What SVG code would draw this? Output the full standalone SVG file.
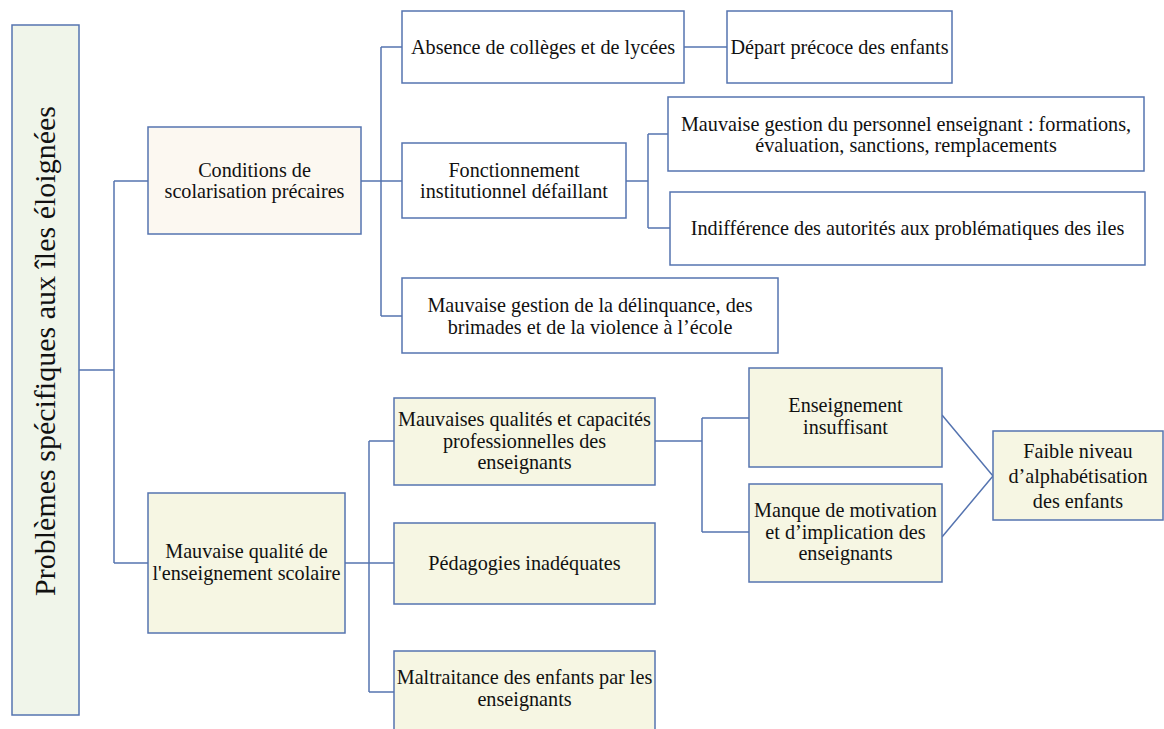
<svg xmlns="http://www.w3.org/2000/svg" width="1164" height="729" viewBox="0 0 1164 729">
<style>
.b{stroke:#5574b0;stroke-width:1.5;}
.w{fill:#ffffff;}
.g{fill:#f0f5ea;}
.c{fill:#fcf8f1;}
.y{fill:#f6f6e3;}
text{font-family:"Liberation Serif","Times New Roman",serif;font-size:20.2px;fill:#111;text-anchor:middle;}
.con{fill:none;stroke:#5574b0;stroke-width:1.5;}
</style>
<rect width="1164" height="729" fill="#ffffff"/>
<g id="connectors" class="con">
<path d="M79 370 H114 M114 181 V563 M114 181 H148 M114 563 H148"/>
<path d="M361 181 H381 M381 47 V316 M381 47 H402 M381 181 H402 M381 316 H402"/>
<path d="M684 47 H727"/>
<path d="M626 181 H648 M648 134 V228 M648 134 H668 M648 228 H670"/>
<path d="M345 563 H369 M369 441 V692 M369 441 H394 M369 563 H394 M369 692 H394"/>
<path d="M655 441 H702 M702 418 V532 M702 418 H749 M702 532 H749"/>
<path d="M942 415 L993 476 L942 537"/>
</g>
<g id="root"><rect class="b g" x="12" y="25" width="67" height="690"/>
<text transform="translate(55 351) rotate(-90)" style="font-size:30px">Problèmes spécifiques aux îles éloignées</text></g>
<g id="conditions"><rect class="b c" x="148" y="127" width="213" height="107"/>
<text x="254.5" y="177">Conditions de</text><text x="254.5" y="198">scolarisation précaires</text></g>
<g id="mauvaise-qualite"><rect class="b y" x="148" y="493" width="197" height="140"/>
<text x="246.5" y="558">Mauvaise qualité de</text><text x="246.5" y="580">l'enseignement scolaire</text></g>
<g id="absence"><rect class="b w" x="402" y="11" width="282" height="72"/>
<text x="543" y="54">Absence de collèges et de lycées</text></g>
<g id="depart"><rect class="b w" x="727" y="11" width="225" height="72"/>
<text x="839.5" y="54">Départ précoce des enfants</text></g>
<g id="fonctionnement"><rect class="b w" x="402" y="143" width="224" height="75"/>
<text x="514" y="177">Fonctionnement</text><text x="514" y="198">institutionnel défaillant</text></g>
<g id="gestion-personnel"><rect class="b w" x="668" y="97" width="476" height="74"/>
<text x="906" y="131">Mauvaise gestion du personnel enseignant : formations,</text><text x="906" y="152">évaluation, sanctions, remplacements</text></g>
<g id="indifference"><rect class="b w" x="670" y="192" width="475" height="73"/>
<text x="907.5" y="235">Indifférence des autorités aux problématiques des iles</text></g>
<g id="delinquance"><rect class="b w" x="402" y="278" width="376" height="75"/>
<text x="590" y="312">Mauvaise gestion de la délinquance, des</text><text x="590" y="334">brimades et de la violence à l’école</text></g>
<g id="qualites"><rect class="b y" x="394" y="398" width="261" height="87"/>
<text x="524.5" y="426">Mauvaises qualités et capacités</text><text x="524.5" y="447.5">professionnelles des</text><text x="524.5" y="469">enseignants</text></g>
<g id="pedagogies"><rect class="b y" x="394" y="523" width="261" height="81"/>
<text x="524.5" y="570">Pédagogies inadéquates</text></g>
<g id="maltraitance"><rect class="b y" x="394" y="651" width="261" height="90"/>
<text x="524.5" y="684">Maltraitance des enfants par les</text><text x="524.5" y="706">enseignants</text></g>
<g id="insuffisant"><rect class="b y" x="749" y="368" width="193" height="99"/>
<text x="845.5" y="412">Enseignement</text><text x="845.5" y="434">insuffisant</text></g>
<g id="motivation"><rect class="b y" x="749" y="484" width="193" height="98"/>
<text x="845.5" y="517">Manque de motivation</text><text x="845.5" y="538.5">et d’implication des</text><text x="845.5" y="560">enseignants</text></g>
<g id="faible"><rect class="b y" x="993" y="431" width="170" height="89"/>
<text x="1078" y="458">Faible niveau</text><text x="1078" y="483">d’alphabétisation</text><text x="1078" y="508">des enfants</text></g>
</svg>
